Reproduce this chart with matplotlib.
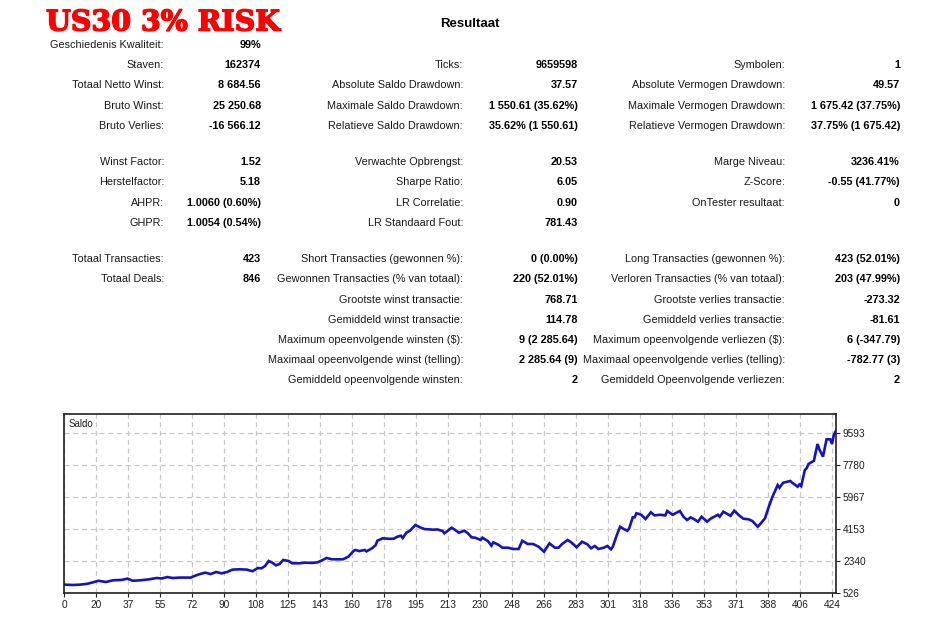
import matplotlib
matplotlib.use("Agg")
import matplotlib.pyplot as plt
import matplotlib.patheffects as pe

# balans per transactie
trade_no = [0, 5, 9, 13, 16, 19, 23, 27, 32, 35, 38, 42, 47, 51, 54, 57, 60, 64, 70, 72,
            75, 78, 81, 84, 87, 90, 93, 97, 101, 104, 107, 109, 111, 113, 115, 117, 119, 121, 124, 126,
            130, 133, 137, 140, 142, 145, 148, 151, 154, 157, 160, 161, 163, 166, 167, 170, 172, 173, 176, 179,
            182, 184, 186, 187, 189, 191, 194, 197, 199, 202, 204, 206, 209, 210, 214, 216, 218, 221, 223, 225,
            227, 230, 231, 234, 236, 237, 240, 242, 245, 248, 251, 253, 256, 259, 262, 265, 268, 271, 273, 275,
            278, 280, 283, 286, 289, 291, 293, 295, 298, 300, 302, 303, 305, 307, 309, 311, 312, 314, 315, 316,
            318, 319, 321, 324, 326, 329, 332, 333, 336, 340, 342, 344, 346, 348, 350, 352, 355, 357, 361, 362,
            364, 368, 370, 373, 375, 378, 380, 383, 385, 387, 389, 391, 394, 395, 397, 401, 402, 405, 406, 407,
            409, 410, 411, 414, 416, 417, 419, 421, 423, 424, 425, 426]
balance = [1000, 980, 1000, 1050, 1130, 1220, 1150, 1245, 1270, 1340, 1220, 1245, 1300, 1375, 1350, 1430, 1375, 1400, 1400, 1490,
           1600, 1680, 1600, 1715, 1640, 1715, 1850, 1870, 1850, 1760, 1940, 1925, 2056, 2340, 2245, 2095, 2170, 2396, 2340, 2210,
           2210, 2245, 2230, 2265, 2355, 2510, 2435, 2435, 2435, 2583, 2923, 2963, 2900, 2963, 2885, 3059, 3230, 3490, 3626, 3600,
           3600, 3716, 3773, 3640, 3943, 4056, 4380, 4226, 4150, 4130, 4113, 4130, 4040, 3910, 4226, 4096, 3943, 4056, 3910, 3680,
           3660, 3530, 3660, 3470, 3207, 3400, 3246, 3093, 3093, 3020, 3020, 3490, 3303, 3303, 3150, 2866, 3340, 3093, 3093, 3303,
           3530, 3400, 3116, 3433, 3280, 3059, 3190, 3020, 3093, 3190, 3000, 3150, 3756, 4283, 4150, 4056, 4180, 4816, 4816, 5043,
           4990, 4925, 4720, 5100, 4925, 4960, 4925, 5173, 4960, 5173, 4850, 4663, 4810, 4700, 4567, 4850, 4567, 4740, 4960, 4850,
           5133, 4900, 5190, 4900, 4740, 4700, 4606, 4283, 4510, 4760, 5383, 5950, 6646, 6490, 6776, 6873, 6776, 6550, 6680, 6590,
           7497, 7590, 7836, 8020, 8970, 8670, 8250, 9236, 9236, 8970, 9480, 9685]

x_ticks = [0, 20, 37, 55, 72, 90, 108, 125, 143, 160, 178, 195, 213, 230, 248, 266, 283, 301, 318, 336, 353, 371, 388, 406, 424]
y_ticks = [526, 2340, 4153, 5967, 7780, 9593]

# statistieken: (rij, label, waarde)
col1 = [(0, "Geschiedenis Kwaliteit:", "99%"),
        (1, "Staven:", "162374"),
        (2, "Totaal Netto Winst:", "8 684.56"),
        (3, "Bruto Winst:", "25 250.68"),
        (4, "Bruto Verlies:", "-16 566.12"),
        (6, "Winst Factor:", "1.52"),
        (7, "Herstelfactor:", "5.18"),
        (8, "AHPR:", "1.0060 (0.60%)"),
        (9, "GHPR:", "1.0054 (0.54%)"),
        (11, "Totaal Transacties:", "423"),
        (12, "Totaal Deals:", "846")]
col2 = [(1, "Ticks:", "9659598"),
        (2, "Absolute Saldo Drawdown:", "37.57"),
        (3, "Maximale Saldo Drawdown:", "1 550.61 (35.62%)"),
        (4, "Relatieve Saldo Drawdown:", "35.62% (1 550.61)"),
        (6, "Verwachte Opbrengst:", "20.53"),
        (7, "Sharpe Ratio:", "6.05"),
        (8, "LR Correlatie:", "0.90"),
        (9, "LR Standaard Fout:", "781.43"),
        (11, "Short Transacties (gewonnen %):", "0 (0.00%)"),
        (12, "Gewonnen Transacties (% van totaal):", "220 (52.01%)"),
        (13, "Grootste winst transactie:", "768.71"),
        (14, "Gemiddeld winst transactie:", "114.78"),
        (15, "Maximum opeenvolgende winsten ($):", "9 (2 285.64)"),
        (16, "Maximaal opeenvolgende winst (telling):", "2 285.64 (9)"),
        (17, "Gemiddeld opeenvolgende winsten:", "2")]
col3 = [(1, "Symbolen:", "1"),
        (2, "Absolute Vermogen Drawdown:", "49.57"),
        (3, "Maximale Vermogen Drawdown:", "1 675.42 (37.75%)"),
        (4, "Relatieve Vermogen Drawdown:", "37.75% (1 675.42)"),
        (6, "Marge Niveau:", "3236.41%"),
        (7, "Z-Score:", "-0.55 (41.77%)"),
        (8, "OnTester resultaat:", "0"),
        (11, "Long Transacties (gewonnen %):", "423 (52.01%)"),
        (12, "Verloren Transacties (% van totaal):", "203 (47.99%)"),
        (13, "Grootste verlies transactie:", "-273.32"),
        (14, "Gemiddeld verlies transactie:", "-81.61"),
        (15, "Maximum opeenvolgende verliezen ($):", "6 (-347.79)"),
        (16, "Maximaal opeenvolgende verlies (telling):", "-782.77 (3)"),
        (17, "Gemiddeld Opeenvolgende verliezen:", "2")]

W, H = 948, 629
fig = plt.figure(figsize=(W / 100, H / 100), dpi=100)
plt.rcParams['font.family'] = ['Liberation Sans', 'DejaVu Sans']


def px(x, y):
    return x / W, 1 - y / H


# titel: zware schreefletter, iets aangedikt
fig.text(*px(46, 23), "US30 3% RISK", color="#FF0000", fontsize=20.5, fontweight="heavy",
         family="DejaVu Serif", ha="left", va="center",
         path_effects=[pe.withStroke(linewidth=1.1, foreground="#FF0000")])
fig.text(*px(470, 24), "Resultaat", fontsize=9.5, fontweight="bold", ha="center", va="center")

row_y = {}
for r in range(18):
    # kleine extra ruimte na de lege rijen
    row_y[r] = 45 + r * 20.2 - (r >= 6) * 4 - (r >= 11) * 4

for col, lx, vx in [(col1, 164, 261), (col2, 463, 578), (col3, 785, 900)]:
    for r, lab, val in col:
        fig.text(*px(lx, row_y[r]), lab, fontsize=7.8, ha="right", va="center", color="#1a1a1a")
        fig.text(*px(vx, row_y[r]), val, fontsize=7.8, fontweight="bold", ha="right", va="center")

# saldo grafiek
ax = fig.add_axes([64 / W, 1 - 593 / H, 772 / W, 179 / H])
ax.plot(trade_no, balance, color="#1414BE", linewidth=1.9, solid_joinstyle="miter")
ax.set_xlim(0, 426.2)
ax.set_ylim(526, 10670)
ax.set_xticks([k * 17.667 for k in range(len(x_ticks))])
ax.set_xticklabels([str(t) for t in x_ticks])
ax.set_yticks(y_ticks)
ax.yaxis.tick_right()
ax.tick_params(axis="both", labelsize=7.3, length=3, width=0.8, pad=2, colors="#202020")
ax.grid(True, color="#C8C8C8", linestyle=(0, (4, 3)), linewidth=0.9)
for s in ax.spines.values():
    s.set_color("#202020")
    s.set_linewidth(1.2)
ax.text(0.006, 0.97, "Saldo", transform=ax.transAxes, fontsize=7, va="top", ha="left", color="#202020")

fig.savefig("out.png", dpi=100)
